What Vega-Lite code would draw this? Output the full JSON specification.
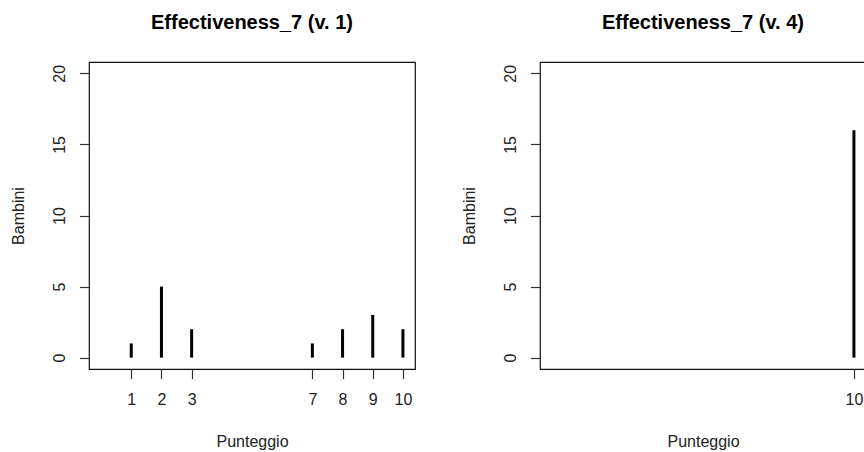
{
  "$schema": "https://vega.github.io/schema/vega-lite/v6.json",
  "padding": {"left": 9, "top": 12, "right": 0, "bottom": 0},
  "background": "white",
  "spacing": 125,
  "bounds": "flush",
  "datasets": {
    "v1": [
      {"punteggio": 1, "bambini": 1},
      {"punteggio": 2, "bambini": 5},
      {"punteggio": 3, "bambini": 2},
      {"punteggio": 7, "bambini": 1},
      {"punteggio": 8, "bambini": 2},
      {"punteggio": 9, "bambini": 3},
      {"punteggio": 10, "bambini": 2}
    ],
    "v4": [
      {"punteggio": 10, "bambini": 16}
    ]
  },
  "hconcat": [
    {
      "width": 326,
      "height": 307,
      "title": "Effectiveness_7 (v. 1)",
      "data": {"name": "v1"},
      "mark": {"type": "rule", "strokeWidth": 3, "color": "black", "strokeCap": "butt"},
      "encoding": {
        "x": {
          "field": "punteggio", "type": "quantitative",
          "scale": {"domain": [-0.4, 10.4], "nice": false, "zero": false},
          "axis": {"values": [1, 2, 3, 7, 8, 9, 10], "title": "Punteggio"}
        },
        "y": {
          "field": "bambini", "type": "quantitative",
          "scale": {"domain": [-0.8, 20.8], "nice": false, "zero": false},
          "axis": {"values": [0, 5, 10, 15, 20], "title": "Bambini"}
        },
        "y2": {"datum": 0}
      }
    },
    {
      "width": 326,
      "height": 307,
      "title": "Effectiveness_7 (v. 4)",
      "data": {"name": "v4"},
      "mark": {"type": "rule", "strokeWidth": 3, "color": "black", "strokeCap": "butt"},
      "encoding": {
        "x": {
          "field": "punteggio", "type": "quantitative",
          "scale": {"domain": [-0.4, 10.4], "nice": false, "zero": false},
          "axis": {"values": [10], "title": "Punteggio"}
        },
        "y": {
          "field": "bambini", "type": "quantitative",
          "scale": {"domain": [-0.8, 20.8], "nice": false, "zero": false},
          "axis": {"values": [0, 5, 10, 15, 20], "title": "Bambini"}
        },
        "y2": {"datum": 0}
      }
    }
  ],
  "config": {
    "font": "Liberation Sans",
    "view": {"stroke": "#111111", "strokeWidth": 1.2},
    "title": {
      "font": "Liberation Sans",
      "fontSize": 20,
      "fontWeight": "bold",
      "color": "black",
      "anchor": "middle",
      "baseline": "alphabetic",
      "offset": 29
    },
    "axis": {
      "domain": false,
      "grid": false,
      "ticks": true,
      "tickColor": "#333333",
      "tickWidth": 1.2,
      "tickSize": 9.6,
      "labelFont": "Liberation Sans",
      "labelFontSize": 16,
      "labelColor": "#222222",
      "titleFont": "Liberation Sans",
      "titleFontSize": 16,
      "titleFontWeight": "normal",
      "titleColor": "#222222"
    },
    "axisX": {
      "labelPadding": 13,
      "titlePadding": 26,
      "labelFlush": false,
      "labelOverlap": false
    },
    "axisY": {
      "labelAngle": -90,
      "labelAlign": "center",
      "labelBaseline": "bottom",
      "labelPadding": 12,
      "titlePadding": 25,
      "labelOverlap": false
    }
  }
}
